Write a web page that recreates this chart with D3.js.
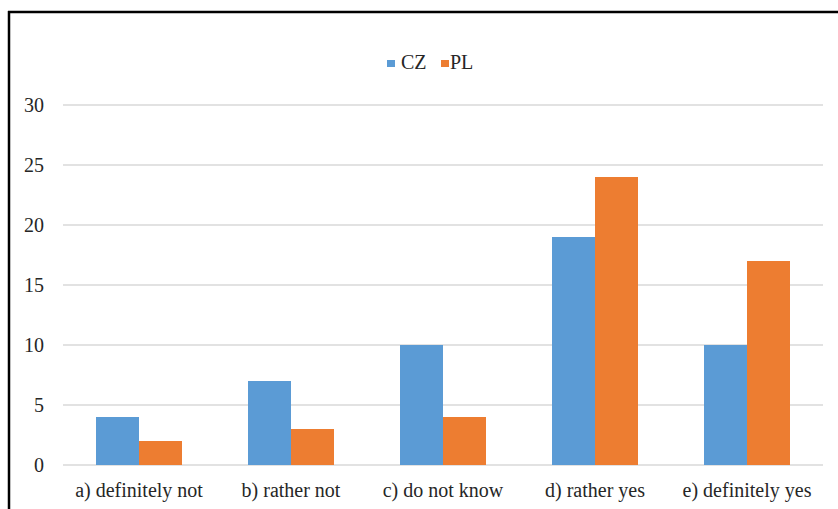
<!DOCTYPE html>
<html>
<head>
<meta charset="utf-8">
<script src="https://cdn.jsdelivr.net/npm/d3@7"></script>
<style>
  html, body { margin: 0; padding: 0; background: #fff; }
  svg { display: block; }
  svg text { font-family: "Liberation Serif", "DejaVu Serif", serif !important; fill: #262626; }
</style>
</head>
<body>
<svg id="chart" width="838" height="509"></svg>
<script>
// Survey answers per country
const categories = ["a) definitely not", "b) rather not", "c) do not know", "d) rather yes", "e) definitely yes"];
const seriesNames = ["CZ", "PL"];
const czValues = [4, 7, 10, 19, 10];
const plValues = [2, 3, 4, 24, 17];
const yTicks = [0, 5, 10, 15, 20, 25, 30];
const colors = ["#5b9bd5", "#ed7d31"];

const serif = "Liberation Serif, DejaVu Serif, serif";
const svg = d3.select("#chart");
const W = 838, H = 509;
const plot = { left: 63, right: 823, top: 105, bottom: 465 };

const rows = categories.map((c, i) => ({ cat: c, values: [czValues[i], plValues[i]] }));

const x = d3.scaleBand().domain(categories).range([plot.left, plot.right]).paddingInner(0).paddingOuter(0);
const x1 = d3.scaleBand().domain(seriesNames).range([0, 86]);
const y = d3.scaleLinear().domain([0, 30]).range([plot.bottom, plot.top]);

// Outer frame (left and top edges)
svg.append("line").attr("x1", 9).attr("x2", 9).attr("y1", 11).attr("y2", H)
  .attr("stroke", "#000").attr("stroke-width", 2.5);
svg.append("line").attr("x1", 8).attr("x2", W).attr("y1", 12).attr("y2", 12)
  .attr("stroke", "#000").attr("stroke-width", 2.5);

// Horizontal gridlines
svg.append("g").selectAll("line").data(yTicks).join("line")
  .attr("x1", plot.left).attr("x2", plot.right)
  .attr("y1", d => y(d)).attr("y2", d => y(d))
  .attr("stroke", "#d9d9d9").attr("stroke-width", 1.5);

// Y axis labels
const yAxis = d3.axisLeft(y).tickValues(yTicks).tickSize(0).tickPadding(0);
const gy = svg.append("g").attr("transform", `translate(${44},0)`).call(yAxis)
  .attr("font-family", serif).attr("font-size", 20);
gy.select(".domain").remove();
gy.selectAll("text").attr("fill", "#262626").attr("dy", "0.33em");

// Bars
const groups = svg.append("g").selectAll("g").data(rows).join("g")
  .attr("transform", d => `translate(${x(d.cat) + x.bandwidth() / 2 - 43},0)`);
groups.selectAll("rect").data(d => d.values.map((v, i) => ({ key: seriesNames[i], v, i })))
  .join("rect")
  .attr("x", d => x1(d.key))
  .attr("width", x1.bandwidth())
  .attr("y", d => y(d.v))
  .attr("height", d => y(0) - y(d.v))
  .attr("fill", d => colors[d.i]);

// Category labels
const xAxis = d3.axisBottom(x).tickSize(0).tickPadding(0);
const gx = svg.append("g").attr("transform", `translate(0,497)`).call(xAxis)
  .attr("font-family", serif).attr("font-size", 20);
gx.select(".domain").remove();
gx.selectAll("text").attr("fill", "#262626").attr("dy", "0");

// Legend
const legend = svg.append("g").attr("font-family", serif).attr("font-size", 20);
const legendItems = [
  { name: "CZ", color: colors[0], x: 387, tx: 401 },
  { name: "PL", color: colors[1], x: 441, tx: 450 }
];
legendItems.forEach(it => {
  legend.append("rect").attr("x", it.x).attr("y", 60).attr("width", 8).attr("height", 7).attr("fill", it.color);
  legend.append("text").attr("x", it.tx).attr("y", 69).text(it.name);
});
</script>
</body>
</html>
